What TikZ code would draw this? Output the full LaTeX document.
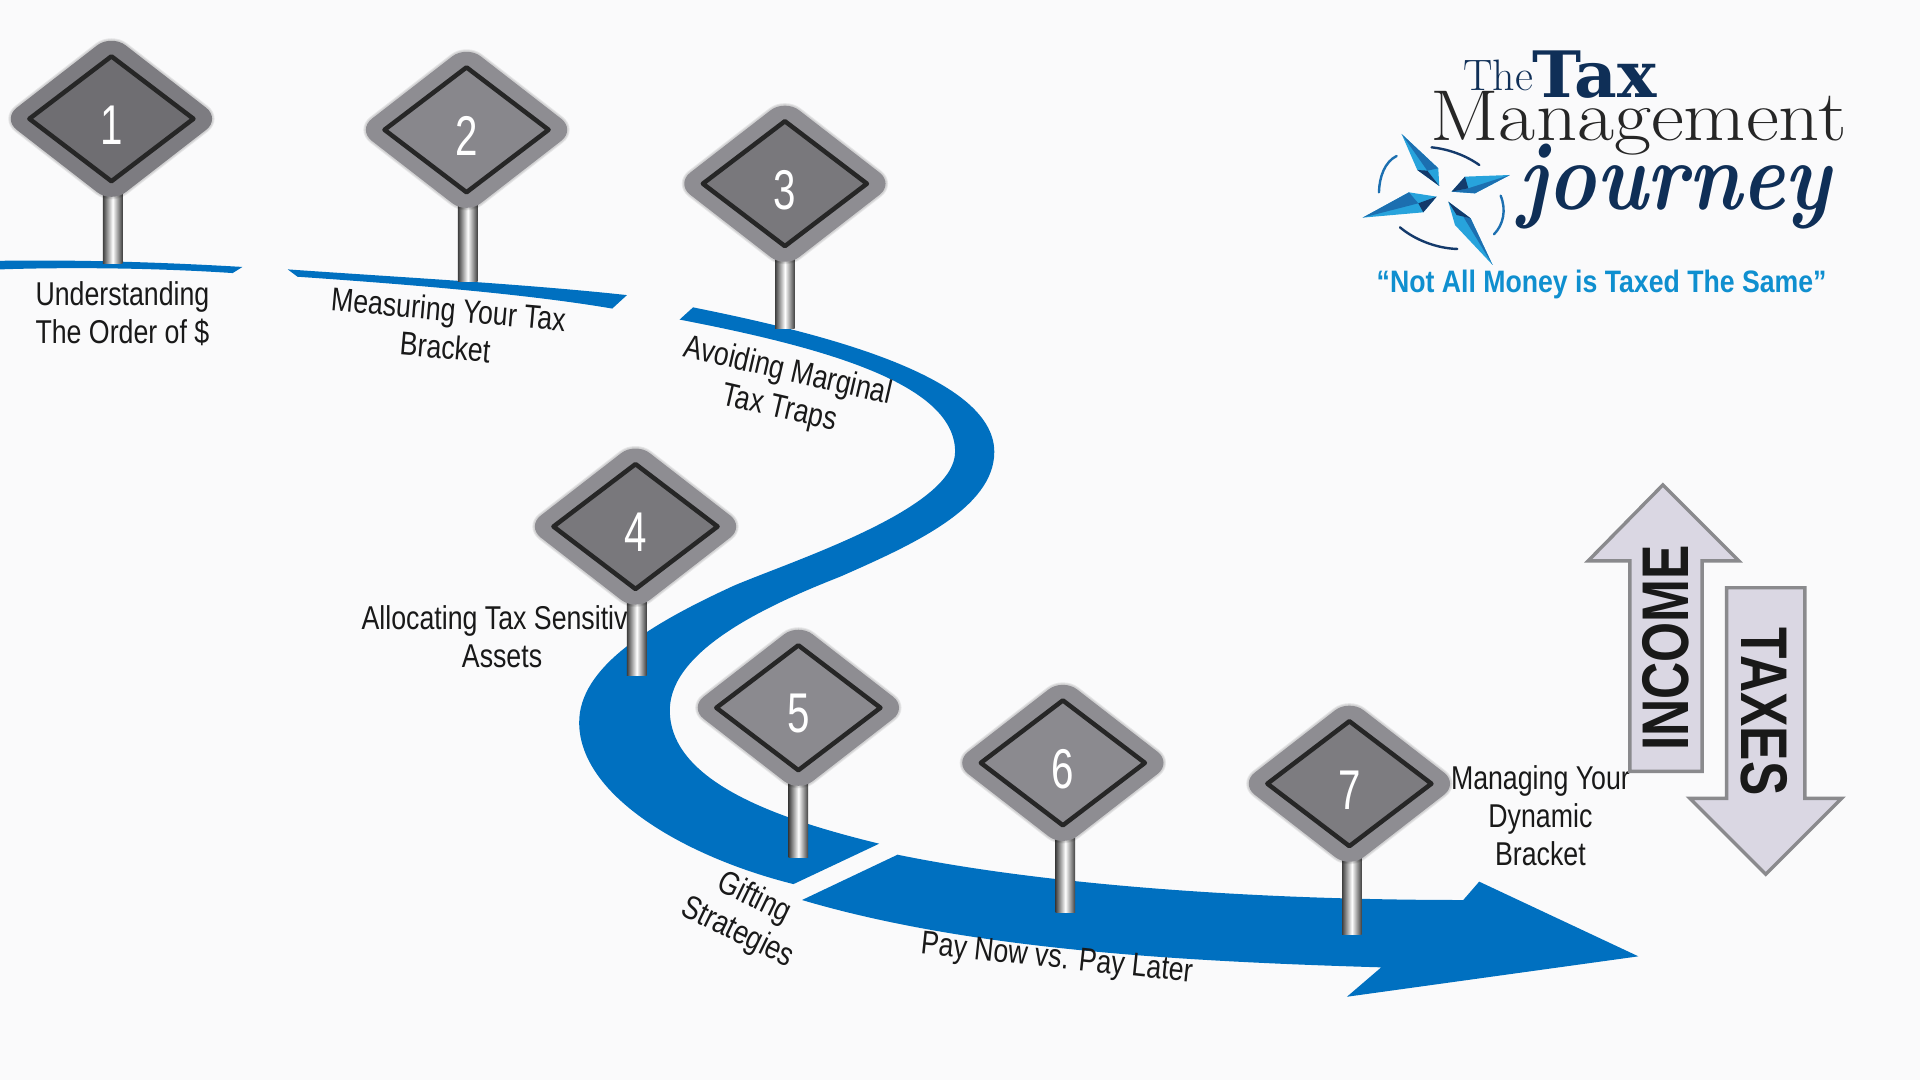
\documentclass[tikz,border=0pt]{standalone}
\usepackage{fontspec}
\setmainfont{Liberation Sans}
\newfontfamily\narrowfont[FakeStretch=0.81]{Liberation Sans}
\newfontfamily\digitfont[FakeStretch=0.72]{Liberation Sans}
\newfontfamily\tagfont[FakeStretch=0.86]{Liberation Sans}
\newfontfamily\arrowfont[FakeStretch=0.78]{Liberation Sans}
\newfontfamily\logofont{Latin Modern Roman}
\newfontfamily\slabfont{DejaVu Serif}
\definecolor{pagebg}{HTML}{FAFAFB}
\definecolor{roadblue}{HTML}{0070C0}
\definecolor{signgray}{HTML}{8E8D92}
\definecolor{arrowfill}{HTML}{DAD7E3}
\definecolor{arrowedge}{HTML}{8A8A8D}
\definecolor{logonavy}{HTML}{0F2F57}
\definecolor{logotag}{HTML}{0F8FCF}
\definecolor{shardlight}{HTML}{27A3DC}
\definecolor{shardmid}{HTML}{1C6FB0}
\definecolor{sharddark}{HTML}{143A6B}
\tikzset{
  roadstrip/.style={fill=roadblue},
  steplabel/.style={font=\narrowfont\fontsize{33}{38}\selectfont,align=center,text=black!90},
  bigarrow/.style={fill=arrowfill,draw=arrowedge,line width=3.4pt,line join=miter},
  arrowtext/.style={font=\arrowfont\bfseries\fontsize{66}{66}\selectfont,text=black!90},
  ringarc/.style={line width=2.4pt,line cap=round},
}
\begin{document}
\begin{tikzpicture}[x=1.2245pt,y=-1.2245pt]
\useasboundingbox (0,0) rectangle (1568,882);
\fill[pagebg] (0,0) rectangle (1568,882);
% road
\fill[roadstrip] (0,213) .. controls (60,212) and (130,214) .. (198,218) -- (190,223) .. controls (130,219) and (60,218) .. (0,220) -- cycle;
\fill[roadstrip] (235,220) .. controls (320,226) and (430,232) .. (512,241) -- (500,252) .. controls (430,240) and (330,232) .. (243,226) -- cycle;
\fill[roadstrip] (566,251) .. controls (660,270) and (812,305) .. (812,369)
  .. controls (812,415) and (745,445) .. (686,471)
  .. controls (630,493) and (547,530) .. (547,580)
  .. controls (547,640) and (640,670) .. (718,689) -- (648,722)
  .. controls (560,700) and (473,650) .. (473,590)
  .. controls (473,545) and (530,510) .. (600,478)
  .. controls (650,457) and (780,415) .. (780,369)
  .. controls (780,315) and (680,285) .. (555,261) -- cycle;
\fill[roadstrip] (733,698) .. controls (850,722) and (1020,735) .. (1195,735) -- (1208,720) -- (1338,781) -- (1100,814) -- (1128,790) .. controls (960,785) and (790,775) .. (655,735) -- cycle;
% labels
\node[steplabel] (lblorder) at (100,256) {Understanding\\The Order of \$};
\node[steplabel,rotate=-5] (lblbracket) at (365,268) {Measuring Your Tax\\Bracket};
\node[steplabel,rotate=-13] (lbltraps) at (640,319) {Avoiding Marginal\\Tax Traps};
\node[steplabel] (lblassets) at (410,520) {Allocating Tax Sensitive\\Assets};
\node[steplabel,rotate=-26] (lblgifting) at (609,748) {Gifting\\Strategies};
\node[steplabel,rotate=-6] (lblpay) at (863,784) {Pay Now vs. Pay Later};
\node[steplabel] (lbldynamic) at (1258,666) {Managing Your\\Dynamic\\Bracket};
% signs
\foreach \Num/\X/\Y/\Px/\Low/\Tone/\Face in {1/91/97/92/215/88/78,2/381/106/382/230/100/96,3/641/150/641/268/100/85,4/519/430/520/552/100/85,5/652/578/652/700/100/98,6/868/623/870/745/100/98,7/1102/640/1104/763/100/88}{
    \shade[left color=black!75,right color=black!75,middle color=white] (\Px-8,\Y+50) rectangle (\Px+8,\Low);
    \foreach \Glow in {5,3}{
        \draw[black,opacity=0.08,line width=\Glow pt,rounded corners=18] (\X-89,\Y) -- (\X,\Y-69) -- (\X+89,\Y) -- (\X,\Y+69) -- cycle;
    }
    \fill[signgray!\Tone!black,rounded corners=18] (\X-89,\Y) -- (\X,\Y-69) -- (\X+89,\Y) -- (\X,\Y+69) -- cycle;
    \draw[fill=signgray!\Face!black,draw=black!85,line width=4.5pt,line join=round] (\X-67,\Y) -- (\X,\Y-51) -- (\X+67,\Y) -- (\X,\Y+51) -- cycle;
    \node[text=white,font=\digitfont\fontsize{56}{56}\selectfont] (sign\Num) at (\X,\Y+5) {\Num};
}
% income and taxes
\draw[bigarrow] (1358,396) -- (1420,458) -- (1390,458) -- (1390,630) -- (1331,630) -- (1331,458) -- (1297,458) -- cycle;
\draw[bigarrow] (1410,480) -- (1474,480) -- (1474,652) -- (1504,652) -- (1442,714) -- (1380,652) -- (1410,652) -- cycle;
\node[arrowtext,rotate=90] (income) at (1360,529) {INCOME};
\node[arrowtext,rotate=-90] (taxes) at (1441,581) {TAXES};
% logo
\node[anchor=base west,inner sep=0pt,text=logonavy,font=\logofont\fontsize{44}{44}\selectfont] (logothe) at (1195,74) {The};
\node[anchor=base west,inner sep=0pt,text=logonavy,font=\slabfont\bfseries\fontsize{64}{64}\selectfont,xscale=1.03] (logotax) at (1251,80) {Tax};
\node[anchor=base west,inner sep=0pt,text=black!85,font=\logofont\fontsize{72}{72}\selectfont,xscale=1.12] (logoman) at (1168,115) {Management};
\node[anchor=base west,inner sep=0pt,text=logonavy,font=\logofont\bfseries\itshape\fontsize{90}{90}\selectfont,xscale=0.91,yscale=1.08] (logojourney) at (1240,171) {journey};
\node[text=logotag,font=\tagfont\bfseries\fontsize{31}{31}\selectfont] (logotag) at (1308,232) {“Not All Money is Taxed The Same”};
\begin{scope}[shift={(1094.3,24.5)},x=0.3333pt,y=-0.3333pt]
  % shards
  \fill[shardlight] (185,312) -- (295,415) -- (298,468) -- (232,420) -- cycle;
  \fill[shardmid] (185,312) -- (295,415) -- (262,422) -- cycle;
  \fill[sharddark] (232,420) -- (262,422) -- (298,468) -- cycle;
  \fill[shardlight] (510,435) -- (375,440) -- (335,485) -- (405,490) -- cycle;
  \fill[shardmid] (510,435) -- (385,475) -- (335,485) -- (405,490) -- cycle;
  \fill[sharddark] (375,440) -- (335,485) -- (385,475) -- cycle;
  \fill[shardlight] (68,563) -- (207,487) -- (290,500) -- (250,547) -- cycle;
  \fill[shardmid] (68,563) -- (207,487) -- (235,520) -- cycle;
  \fill[sharddark] (290,500) -- (250,547) -- (235,520) -- cycle;
  \fill[shardlight] (325,515) -- (392,565) -- (458,705) -- (345,585) -- cycle;
  \fill[shardmid] (392,565) -- (458,705) -- (370,560) -- cycle;
  \fill[sharddark] (325,515) -- (392,565) -- (350,555) -- cycle;
  % ring
  \draw[ringarc,sharddark] (275,352) .. controls (330,358) and (380,378) .. (418,405);
  \draw[ringarc,shardmid] (170,378) .. controls (135,395) and (118,440) .. (117,487);
  \draw[ringarc,shardmid] (482,497) .. controls (500,540) and (490,585) .. (462,613);
  \draw[ringarc,sharddark] (180,592) .. controls (225,630) and (290,655) .. (352,657);
\end{scope}
\end{tikzpicture}
\end{document}
